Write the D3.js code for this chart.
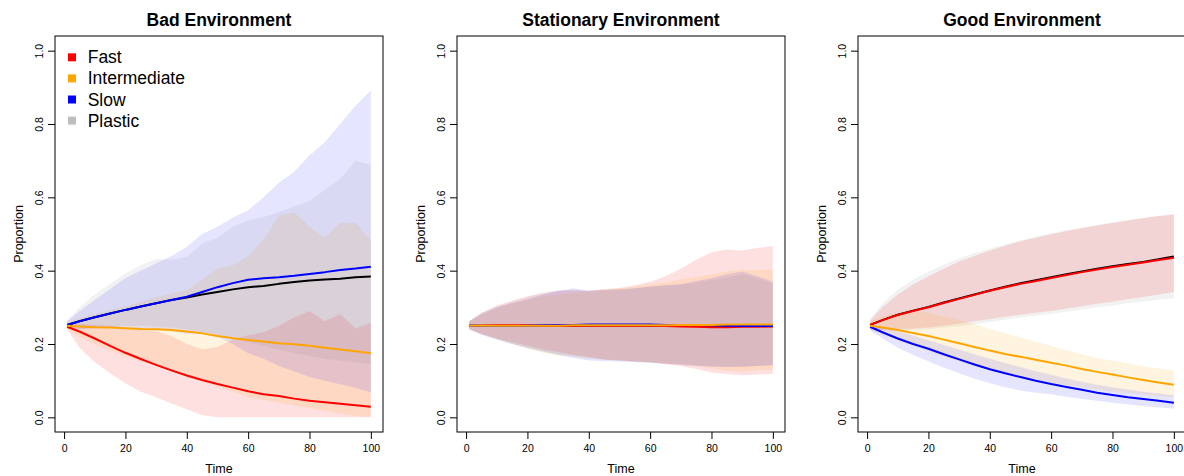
<!DOCTYPE html>
<html>
<head>
<meta charset="utf-8">
<script src="https://cdn.jsdelivr.net/npm/d3@7"></script>
<style>
  body { margin: 0; background: #fff; }
  svg { display: block; font-family: "Liberation Sans", Arial, Helvetica, sans-serif; }
</style>
</head>
<body>
<svg id="chart" width="1184" height="476"></svg>
<script>
// Time points at which the simulated proportions are summarised
const times = [1, 5, 10, 15, 20, 25, 30, 35, 40, 45, 50, 55, 60, 65, 70, 75, 80, 85, 90, 95, 100];

const strategies = ["Fast", "Intermediate", "Slow", "Plastic"];
const panelTitles = ["Bad Environment", "Stationary Environment", "Good Environment"];
const yTicks = [0, 0.2, 0.4, 0.6, 0.8, 1.0];
const xTicks = [0, 20, 40, 60, 80, 100];

// ---- Bad environment: mean and 95% envelope per strategy ----
const badFastMean = [.247,.234,.215,.195,.176,.159,.143,.128,.114,.102,.091,.081,.071,.063,.058,.051,.045,.041,.037,.033,.029];
const badFastLo   = [.240,.190,.150,.120,.092,.070,.055,.038,.022,.006,0,0,0,0,0,0,0,0,0,0,0];
const badFastHi   = [.255,.255,.252,.250,.246,.240,.235,.222,.200,.186,.192,.212,.224,.232,.250,.272,.290,.262,.282,.242,.258];

const badInterMean = [.250,.248,.246,.245,.243,.241,.240,.238,.234,.229,.222,.216,.211,.207,.202,.199,.195,.190,.185,.180,.175];
const badInterLo   = [.240,.220,.200,.182,.165,.152,.140,.125,.110,.097,.085,.070,.055,.047,.040,.032,.025,.017,.010,.004,0];
const badInterHi   = [.258,.270,.282,.292,.302,.315,.328,.338,.347,.375,.405,.415,.440,.485,.550,.560,.520,.490,.530,.530,.483];

const badSlowMean = [.252,.262,.273,.283,.293,.302,.311,.320,.329,.342,.355,.366,.375,.379,.382,.386,.391,.396,.402,.406,.411];
const badSlowLo   = [.242,.240,.242,.244,.245,.243,.240,.235,.228,.228,.220,.200,.175,.160,.140,.125,.110,.100,.090,.080,.068];
const badSlowHi   = [.262,.290,.320,.350,.380,.400,.420,.440,.465,.500,.520,.545,.565,.600,.640,.670,.715,.750,.800,.850,.892];

const badPlasticMean = [.252,.262,.273,.283,.293,.302,.311,.320,.327,.335,.342,.349,.355,.358,.364,.369,.373,.376,.378,.382,.384];
const badPlasticLo   = [.242,.242,.245,.248,.250,.250,.248,.245,.240,.232,.225,.215,.205,.195,.185,.175,.168,.160,.155,.150,.145];
const badPlasticHi   = [.265,.300,.335,.365,.392,.415,.432,.430,.437,.474,.490,.520,.537,.546,.560,.575,.590,.620,.650,.700,.688];

// ---- Stationary environment ----
const statFastMean = [.250,.250,.251,.251,.251,.250,.250,.250,.250,.250,.250,.250,.250,.249,.248,.247,.246,.246,.247,.247,.248];
const statFastLo   = [.240,.228,.215,.205,.195,.185,.178,.170,.165,.158,.155,.152,.150,.145,.140,.132,.122,.118,.115,.117,.118];
const statFastHi   = [.262,.285,.305,.318,.330,.338,.345,.348,.345,.350,.353,.360,.370,.385,.405,.430,.450,.458,.455,.462,.467];

const statInterMean = [.250,.250,.250,.250,.250,.250,.250,.251,.251,.251,.251,.251,.251,.251,.252,.252,.252,.253,.253,.253,.253];
const statInterLo   = [.240,.227,.214,.200,.188,.176,.168,.165,.160,.157,.155,.152,.150,.147,.145,.140,.134,.127,.125,.128,.130];
const statInterHi   = [.262,.280,.297,.310,.320,.330,.335,.340,.343,.348,.352,.357,.362,.368,.376,.383,.390,.398,.402,.402,.403];

const statSlowMean = [.250,.249,.249,.249,.250,.251,.252,.252,.253,.253,.253,.253,.253,.252,.252,.252,.251,.250,.249,.249,.249];
const statSlowLo   = [.240,.225,.212,.200,.190,.180,.170,.162,.155,.153,.152,.150,.148,.146,.143,.140,.138,.137,.138,.140,.142];
const statSlowHi   = [.262,.282,.300,.312,.322,.335,.345,.352,.345,.347,.348,.352,.357,.360,.363,.372,.380,.390,.398,.385,.370];

const statPlasticMean = [.250,.250,.250,.250,.250,.250,.250,.250,.250,.250,.250,.250,.250,.250,.250,.250,.250,.250,.250,.250,.250];
const statPlasticLo   = [.240,.226,.212,.200,.188,.178,.172,.168,.162,.158,.155,.152,.150,.147,.145,.142,.140,.138,.138,.140,.143];
const statPlasticHi   = [.262,.285,.302,.316,.328,.342,.345,.345,.345,.348,.350,.352,.356,.360,.362,.368,.375,.382,.390,.380,.366];

// ---- Good environment ----
const goodFastMean = [.252,.265,.279,.290,.300,.312,.323,.334,.345,.355,.364,.372,.380,.388,.396,.403,.410,.416,.422,.429,.435];
const goodFastLo   = [.240,.240,.240,.242,.245,.250,.255,.262,.268,.274,.280,.285,.290,.297,.303,.310,.315,.322,.328,.335,.342];
const goodFastHi   = [.265,.300,.335,.362,.385,.405,.425,.440,.455,.468,.480,.490,.499,.508,.516,.523,.530,.537,.543,.549,.554];

const goodInterMean = [.250,.245,.238,.230,.222,.212,.202,.192,.182,.173,.165,.157,.149,.141,.132,.124,.117,.109,.102,.095,.089];
const goodInterLo   = [.238,.225,.210,.195,.180,.165,.152,.140,.130,.120,.110,.102,.095,.088,.082,.076,.070,.066,.062,.058,.055];
const goodInterHi   = [.262,.275,.285,.290,.285,.275,.265,.255,.240,.230,.218,.206,.195,.183,.172,.162,.155,.147,.140,.133,.127];

const goodSlowMean = [.247,.232,.215,.200,.187,.172,.158,.144,.131,.120,.110,.100,.091,.083,.075,.067,.061,.055,.050,.045,.040];
const goodSlowLo   = [.237,.215,.190,.170,.152,.135,.120,.105,.093,.082,.073,.067,.063,.056,.050,.045,.040,.035,.031,.027,.024];
const goodSlowHi   = [.255,.245,.235,.223,.210,.197,.185,.172,.160,.148,.137,.126,.116,.106,.097,.089,.082,.076,.070,.065,.060];

const goodPlasticMean = [.252,.265,.280,.291,.301,.313,.324,.335,.346,.356,.366,.374,.382,.390,.398,.405,.412,.418,.424,.431,.439];
const goodPlasticLo   = [.238,.236,.236,.238,.240,.244,.248,.254,.260,.266,.272,.277,.282,.288,.294,.300,.305,.311,.316,.321,.325];
const goodPlasticHi   = [.268,.310,.348,.375,.397,.417,.433,.448,.460,.472,.483,.493,.502,.510,.518,.525,.532,.538,.544,.549,.553];

// Line and envelope colours for each strategy
const lineColors = { Fast: "#ff0000", Intermediate: "#ffa500", Slow: "#0000ff", Plastic: "#000000" };
const legendColors = { Fast: "#ff0000", Intermediate: "#ffa500", Slow: "#0000ff", Plastic: "#bebebe" };
const bandColors = {
  Fast: "rgba(255,0,0,0.12)",
  Intermediate: "rgba(255,165,0,0.12)",
  Slow: "rgba(0,0,255,0.10)",
  Plastic: "rgba(190,190,190,0.20)"
};

const panels = [
  { title: panelTitles[0], legend: true, series: {
      Fast: [badFastMean, badFastLo, badFastHi],
      Intermediate: [badInterMean, badInterLo, badInterHi],
      Slow: [badSlowMean, badSlowLo, badSlowHi],
      Plastic: [badPlasticMean, badPlasticLo, badPlasticHi] } },
  { title: panelTitles[1], legend: false, series: {
      Fast: [statFastMean, statFastLo, statFastHi],
      Intermediate: [statInterMean, statInterLo, statInterHi],
      Slow: [statSlowMean, statSlowLo, statSlowHi],
      Plastic: [statPlasticMean, statPlasticLo, statPlasticHi] } },
  { title: panelTitles[2], legend: false, series: {
      Fast: [goodFastMean, goodFastLo, goodFastHi],
      Intermediate: [goodInterMean, goodInterLo, goodInterHi],
      Slow: [goodSlowMean, goodSlowLo, goodSlowHi],
      Plastic: [goodPlasticMean, goodPlasticLo, goodPlasticHi] } }
];

const svg = d3.select("#chart");
const boxLefts = [55, 457, 858];
const boxW = 328, boxTop = 36, boxBottom = 432;

// Envelopes first, then mean lines on top
const bandOrder = ["Plastic", "Fast", "Intermediate", "Slow"];
const lineOrder = ["Plastic", "Fast", "Slow", "Intermediate"];

panels.forEach((p, i) => {
  const left = boxLefts[i];
  const g = svg.append("g");

  // 4% padding on both ends, like base-graphics defaults
  const xPad = (100 - 1) * 0.04;
  const x = d3.scaleLinear().domain([1 - xPad, 100 + xPad]).range([left, left + boxW]);
  const y = d3.scaleLinear().domain([-0.04, 1.04]).range([boxBottom, boxTop]);

  const area = d3.area()
    .x((d, k) => x(times[k]))
    .y0(d => y(d[0]))
    .y1(d => y(d[1]));
  const line = d3.line()
    .x((d, k) => x(times[k]))
    .y(d => y(d));

  bandOrder.forEach(s => {
    const [, lo, hi] = p.series[s];
    const pts = lo.map((v, k) => [v, hi[k]]);
    g.append("path").attr("d", area(pts)).attr("fill", bandColors[s]).attr("stroke", "none");
  });

  lineOrder.forEach(s => {
    const mean = p.series[s][0];
    g.append("path").attr("d", line(mean))
      .attr("fill", "none").attr("stroke", lineColors[s])
      .attr("stroke-width", 2).attr("stroke-linejoin", "round");
  });

  // Plot frame
  g.append("rect").attr("x", left).attr("y", boxTop)
    .attr("width", boxW).attr("height", boxBottom - boxTop)
    .attr("fill", "none").attr("stroke", "#000").attr("stroke-width", 1);

  // Y axis with labels parallel to the axis
  const ya = g.append("g").attr("transform", `translate(${left},0)`)
    .call(d3.axisLeft(y).tickValues(yTicks).tickFormat(d3.format(".1f")).tickSize(7));
  ya.select(".domain").remove();
  ya.selectAll("line").attr("stroke", "#000");
  ya.selectAll("text")
    .attr("x", null).attr("dy", null)
    .attr("transform", "translate(-12.5,0) rotate(-90)")
    .attr("text-anchor", "middle")
    .attr("fill", "#000")
    .style("font-size", "10.5px").style("font-family", "Liberation Sans, Arial, sans-serif");

  // X axis
  const xa = g.append("g").attr("transform", `translate(0,${boxBottom})`)
    .call(d3.axisBottom(x).tickValues(xTicks).tickFormat(d3.format("d")).tickSize(7).tickPadding(6));
  xa.select(".domain").remove();
  xa.selectAll("line").attr("stroke", "#000");
  xa.selectAll("text").attr("fill", "#000")
    .style("font-size", "10.5px").style("font-family", "Liberation Sans, Arial, sans-serif");

  // Titles
  g.append("text").attr("x", left + boxW / 2).attr("y", 26)
    .attr("text-anchor", "middle").attr("font-weight", "bold")
    .attr("font-size", "17.5px").text(p.title);
  g.append("text").attr("x", left + boxW / 2).attr("y", 473)
    .attr("text-anchor", "middle").attr("font-size", "12.5px").text("Time");
  g.append("text")
    .attr("transform", `translate(${left - 32.5},${(boxTop + boxBottom) / 2}) rotate(-90)`)
    .attr("text-anchor", "middle").attr("font-size", "12.5px").text("Proportion");

  if (p.legend) {
    const lg = g.append("g");
    strategies.forEach((s, k) => {
      const cy = 57.3 + k * 21.1;
      lg.append("rect").attr("x", left + 13).attr("y", cy - 4)
        .attr("width", 8).attr("height", 8).attr("fill", legendColors[s]);
      lg.append("text").attr("x", left + 32.7).attr("y", cy + 6)
        .attr("font-size", "17.5px").text(s);
    });
  }
});
</script>
</body>
</html>
